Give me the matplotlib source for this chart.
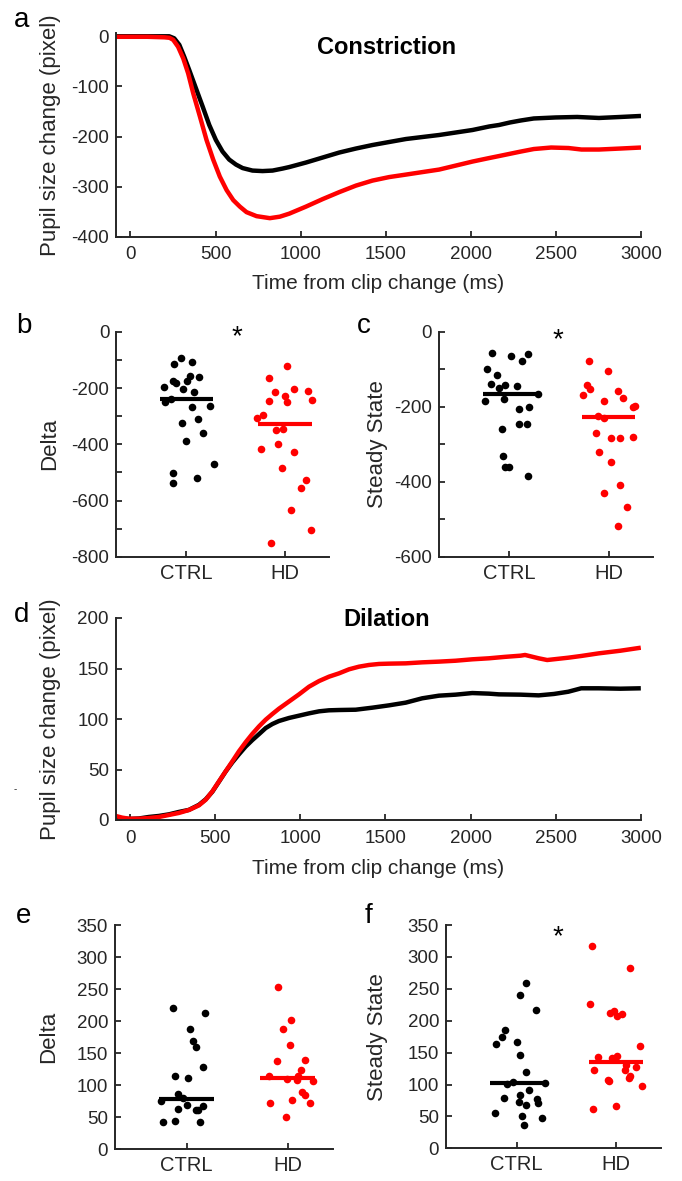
import numpy as np
import matplotlib.pyplot as plt

plt.rcParams['font.family'] = ['Liberation Sans', 'DejaVu Sans']
plt.rcParams['axes.unicode_minus'] = False

W, H = 682, 1181
INK = '#262626'
RED = '#ff0000'

# ---- panel a: constriction traces (time in ms, pupil change in pixel)
con_ctrl_t = [-85, 100, 200, 228, 257, 287, 316, 345, 385, 424, 463, 502, 541, 580, 620,
              659, 717, 776, 835, 894, 933, 1031, 1129, 1227, 1325, 1422, 1520, 1619, 1716,
              1814, 1912, 2010, 2108, 2166, 2230, 2294, 2370, 2498, 2625, 2753, 2880, 3000]
con_ctrl_y = [0, 0, 0, 0, -4, -17, -41, -67, -104, -140, -177, -207, -230, -246, -256,
              -263, -268, -269, -268, -264, -261, -252, -242, -232, -224, -217, -211, -205, -201,
              -197, -192, -187, -180, -177, -172, -168, -164, -162, -161, -163, -161, -159]
con_hd_t = [-85, 100, 200, 230, 251, 280, 310, 339, 369, 408, 447, 486, 525, 565, 604, 643,
            682, 741, 819, 878, 933, 1031, 1129, 1227, 1325, 1422, 1520, 1619, 1716, 1814,
            1912, 2010, 2108, 2166, 2294, 2370, 2472, 2574, 2650, 2753, 2880, 3000]
con_hd_y = [-1, -1, -2, -3, -7, -21, -44, -74, -114, -160, -207, -246, -280, -307, -327, -340,
            -351, -359, -363, -360, -354, -340, -325, -311, -298, -288, -281, -276, -271, -266,
            -258, -250, -243, -239, -230, -225, -222, -223, -226, -226, -224, -222]

# ---- panel d: dilation traces
dil_ctrl_t = [-85, -46, -7, 52, 110, 169, 228, 287, 345, 404, 444, 483, 522, 561, 600, 639,
              678, 717, 757, 796, 835, 874, 933, 992, 1051, 1110, 1168, 1227, 1325, 1422,
              1520, 1619, 1716, 1814, 1912, 2010, 2108, 2166, 2294, 2400, 2490, 2574, 2650,
              2753, 2880, 3000]
dil_ctrl_y = [2, 1.5, 1, 1.5, 3, 4, 5.6, 8, 10, 15, 20.5, 28, 38, 48, 57, 65,
              72.6, 79, 85, 91, 95, 98, 101, 103.3, 105.6, 107.6, 108.6, 108.9, 109.2, 111.2,
              113.5, 116.2, 120.5, 123.1, 124.1, 125.7, 125.1, 124.4, 124.1, 123.4, 124.8, 127,
              130.4, 130.4, 130, 130.4]
dil_hd_t = [-85, -46, -7, 52, 110, 169, 228, 287, 345, 404, 444, 483, 522, 561, 600, 639,
            678, 717, 757, 796, 835, 874, 933, 992, 1051, 1110, 1168, 1227, 1286, 1344, 1403,
            1462, 1520, 1619, 1716, 1814, 1912, 2010, 2108, 2200, 2294, 2320, 2400, 2450,
            2574, 2650, 2753, 2880, 3000]
dil_hd_y = [4, 2.3, 1.3, 1.3, 2, 3, 5, 7, 9.9, 14.5, 20.1, 28.4, 38.3, 48.2, 58, 68,
            76.9, 85.1, 92.7, 99.3, 104.9, 110.2, 117.3, 124.4, 132, 137.6, 141.9, 145.2, 149.2,
            151.8, 153.5, 154.5, 154.8, 155.1, 156.1, 156.8, 157.7, 159.1, 160.1, 161.5, 162.7,
            163.4, 160.1, 158.4, 160.7, 162.4, 165, 167.6, 170.6]

# ---- panel b: constriction delta
b_ctrl = [-94, -114, -108, -173, -183, -157, -159, -174, -195, -203, -212, -237, -248, -268,
          -264, -311, -323, -360, -389, -470, -503, -537, -520]
b_ctrl_x = [0.95, 0.88, 1.06, 0.86, 0.90, 1.04, 1.13, 1.01, 0.77, 0.97, 1.08, 0.84, 0.78, 1.06,
            1.24, 1.12, 0.96, 1.17, 1.00, 1.28, 0.87, 0.87, 1.11]
b_hd = [-121, -164, -215, -203, -209, -227, -247, -249, -241, -294, -307, -348, -347, -399,
        -417, -426, -484, -526, -557, -635, -704, -751]
b_hd_x = [2.02, 1.84, 1.90, 2.09, 2.23, 2.00, 1.84, 2.02, 2.27, 1.78, 1.72, 1.91, 1.98, 1.93,
          1.76, 2.09, 1.97, 2.21, 2.16, 2.06, 2.26, 1.86]
b_med = [-237, -326]

# ---- panel c: constriction steady state
c_ctrl = [-56, -64, -60, -77, -100, -116, -140, -150, -143, -144, -165, -184, -180, -206,
          -202, -245, -247, -260, -332, -360, -361, -384]
c_ctrl_x = [0.82, 1.02, 1.19, 1.13, 0.77, 0.87, 0.81, 0.89, 0.96, 1.08, 1.29, 0.75, 0.95, 1.10,
            1.20, 1.10, 1.18, 0.93, 0.94, 0.96, 1.00, 1.19]
c_hd = [-78, -104, -142, -154, -170, -158, -177, -184, -201, -199, -224, -231, -271, -284,
        -284, -280, -322, -348, -409, -429, -467, -519]
c_hd_x = [1.80, 1.99, 1.78, 1.81, 1.74, 2.09, 2.14, 1.95, 2.25, 2.27, 1.89, 1.95, 1.87, 2.02,
          2.11, 2.25, 1.90, 2.02, 2.11, 1.95, 2.18, 2.09]
c_med = [-165, -227]

# ---- panel e: dilation delta
e_ctrl = [220, 213, 188, 169, 160, 129, 115, 112, 87, 76, 80, 63, 69, 61, 61, 68, 42, 44, 43]
e_ctrl_x = [0.86, 1.18, 1.03, 1.06, 1.09, 1.16, 0.88, 1.01, 0.91, 0.75, 0.96, 0.91, 1.00, 1.09,
            1.11, 1.16, 0.77, 0.88, 1.13]
e_hd = [253, 201, 188, 162, 138, 140, 124, 115, 110, 115, 108, 107, 90, 85, 72, 77, 73, 51]
e_hd_x = [1.91, 2.03, 1.95, 2.02, 1.90, 2.17, 2.13, 1.82, 1.99, 2.10, 2.09, 2.25, 2.14, 2.17,
          1.83, 2.04, 2.22, 1.98]
e_med = [79, 112]

# ---- panel f: dilation steady state
f_ctrl = [259, 240, 217, 186, 175, 164, 167, 147, 119, 104, 101, 103, 91, 84, 78, 79, 73, 68,
          71, 56, 51, 47, 37]
f_ctrl_x = [1.09, 1.03, 1.20, 0.88, 0.85, 0.79, 1.00, 1.03, 1.09, 0.96, 0.90, 1.29, 1.13, 1.03,
            1.21, 0.87, 1.02, 1.09, 1.22, 0.78, 1.05, 1.26, 1.07]
f_hd = [317, 283, 226, 212, 215, 207, 211, 161, 143, 141, 144, 122, 107, 105, 123, 114, 110,
        128, 98, 62, 67, 131]
f_hd_x = [1.76, 2.14, 1.74, 1.94, 1.98, 2.01, 2.06, 2.24, 1.82, 1.96, 2.01, 1.78, 1.92, 1.93,
          2.09, 2.14, 2.13, 2.20, 2.26, 1.77, 2.00, 2.10]
f_med = [102, 136]

groups = ['CTRL', 'HD']


def box(l, t, r, b):
    return [l / W, 1 - b / H, (r - l) / W, (b - t) / H]


def style(ax):
    for s in ['top', 'right']:
        ax.spines[s].set_visible(False)
    for s in ['left', 'bottom']:
        ax.spines[s].set_linewidth(1.4)
        ax.spines[s].set_color(INK)
    ax.tick_params(direction='in', length=4, width=1.3, colors=INK, labelsize=13.5, pad=5)


def ylab(ax, text, xc, l, r):
    ax.set_ylabel(text, fontsize=16, color=INK, va='center')
    ax.yaxis.set_label_coords((xc - l) / (r - l), 0.5)


fig = plt.figure(figsize=(W / 100, H / 100), dpi=100)


def trace_panel(rect, ctrl_t, ctrl_y, hd_t, hd_y, ylim, yticks, title, title_y, xlab_y):
    l, t, r, b = rect
    ax = fig.add_axes(box(*rect))
    style(ax)
    ax.plot(ctrl_t, ctrl_y, color='black', lw=3.2, solid_capstyle='butt')
    ax.plot(hd_t, hd_y, color=RED, lw=3.2, solid_capstyle='butt')
    ax.set_xlim(-85, 3000)
    ax.set_ylim(*ylim)
    ax.set_yticks(yticks)
    ax.set_xticks(np.arange(0, 3001, 500))
    ax.tick_params(axis='x', pad=7)
    ax.set_xlabel('Time from clip change (ms)', fontsize=15, color=INK, va='center')
    ax.xaxis.set_label_coords(0.5, -(xlab_y - b) / (b - t))
    ylab(ax, 'Pupil size change (pixel)', 51, l, r)
    fig.text((l + r) / 2 / W + 8 / W, 1 - title_y / H, title, fontsize=17,
             fontweight='bold', ha='center', va='center', color='black')
    return ax


def dot_panel(rect, ctrl, ctrl_x, hd, hd_x, med, ylim, yticks, labstep, ylabel, ylab_x):
    l, t, r, b = rect
    ax = fig.add_axes(box(*rect))
    style(ax)
    ax.scatter(ctrl_x, ctrl, s=30, color='black', lw=0, zorder=3)
    ax.scatter(hd_x, hd, s=30, color=RED, lw=0, zorder=3)
    for i, (m, c) in enumerate(zip(med, ['black', RED])):
        ax.plot([i + 1 - 0.27, i + 1 + 0.27], [m, m], color=c, lw=3, solid_capstyle='butt',
                zorder=4)
    ax.set_xlim(0.29, 2.45)
    ax.set_ylim(*ylim)
    ax.set_xticks([1, 2])
    ax.set_xticklabels(groups, fontsize=14.5)
    ax.set_yticks(yticks)
    ax.set_yticklabels([f'{v:g}' if v % labstep == 0 else '' for v in yticks])
    ylab(ax, ylabel, ylab_x, l, r)
    return ax


trace_panel((116, 33.3, 641, 236.7), con_ctrl_t, con_ctrl_y, con_hd_t, con_hd_y,
            (-400, 6), np.arange(-400, 1, 100), 'Constriction', 48, 283)

dot_panel((116.3, 332, 329.3, 556.7), b_ctrl, b_ctrl_x, b_hd, b_hd_x, b_med,
          (-800, 0), np.arange(-800, 1, 100), 200, 'Delta', 50)
dot_panel((439, 331.7, 653.3, 556.7), c_ctrl, c_ctrl_x, c_hd, c_hd_x, c_med,
          (-600, 0), np.arange(-600, 1, 100), 200, 'Steady State', 377)

trace_panel((115.7, 618, 640.8, 820), dil_ctrl_t, dil_ctrl_y, dil_hd_t, dil_hd_y,
            (0, 200), np.arange(0, 201, 50), 'Dilation', 620, 868)

dot_panel((115, 925, 333, 1149.3), e_ctrl, e_ctrl_x, e_hd, e_hd_x, e_med,
          (0, 350), np.arange(0, 351, 50), 50, 'Delta', 49)
dot_panel((446, 925, 660.7, 1148.3), f_ctrl, f_ctrl_x, f_hd, f_hd_x, f_med,
          (0, 350), np.arange(0, 351, 50), 50, 'Steady State', 377)

# panel letters
for letter, x, y in [('a', 14, 27), ('b', 16, 333), ('c', 357, 333), ('d', 14, 622),
                     ('e', 16, 923), ('f', 365, 923)]:
    fig.text(x / W, 1 - y / H, letter, fontsize=20, ha='left', va='baseline', color='black')

# significance stars
for x, y in [(237, 344), (558, 347), (558, 944)]:
    fig.text(x / W, 1 - y / H, '*', fontsize=20, ha='center', va='baseline', color='black')

fig.text(15 / W, 1 - 789 / H, '-', fontsize=7, ha='center', va='center', color=INK)

fig.savefig('out.png', dpi=100)
